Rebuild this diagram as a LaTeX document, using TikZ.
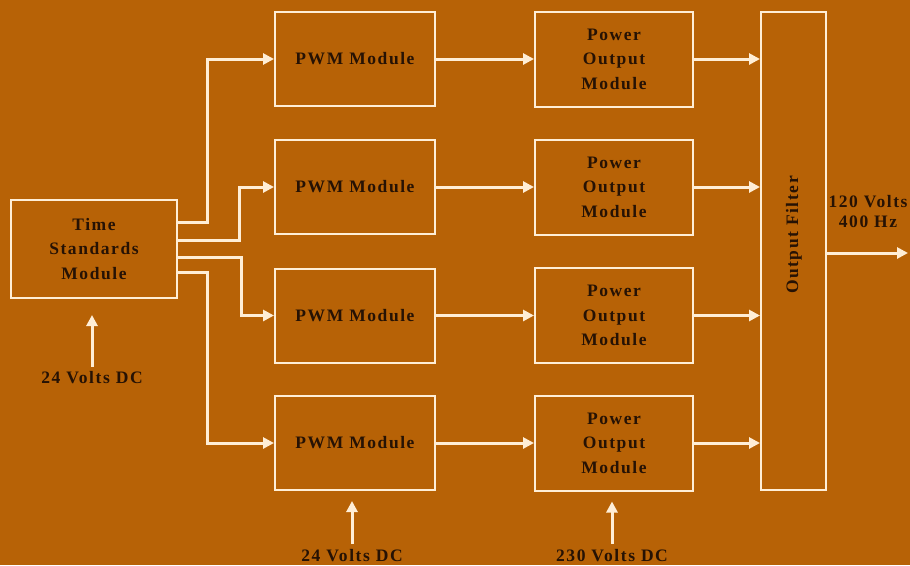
\documentclass[tikz,border=0pt]{standalone}
\usepackage{fontspec}
\setmainfont[LetterSpace=9]{Liberation Serif}
\usetikzlibrary{arrows.meta,calc}
\definecolor{bg}{RGB}{183,98,6}
\definecolor{ln}{RGB}{255,238,214}
\definecolor{tx}{RGB}{38,18,4}
\tikzset{
  box/.style={draw=ln, line width=2pt, inner sep=0pt, text=tx, align=center,
    font=\fontsize{17.5}{24.5}\selectfont\bfseries},
  conn/.style={draw=ln, line width=3pt},
  arr/.style={conn, -{Triangle[length=11pt,width=11pt]}},
  lbl/.style={text=tx, align=center, inner sep=1pt, font=\fontsize{17.5}{20}\selectfont\bfseries}
}
\begin{document}
\begin{tikzpicture}[x=1pt,y=-1pt]
\fill[bg] (0,0) rectangle (910,565);
\useasboundingbox (0,0) rectangle (910,565);

\node[box, minimum width=166pt, minimum height=98pt] (t) at (94,249) {Time\\Standards\\Module};

\foreach \i/\y in {1/59,2/187,3/315.5,4/443} {
  \node[box, minimum width=160pt, minimum height=94pt] (p\i) at (355,\y) {PWM Module};
  \node[box, minimum width=158pt, minimum height=95pt] (o\i) at (614,\y) {Power\\Output\\Module};
}
\node[box, minimum width=65pt, minimum height=478pt] (f) at (793.5,251) {};
\node[text=tx, rotate=90, font=\fontsize{17.5}{20}\selectfont\bfseries] (fl) at (794,235) {Output Filter};

\foreach \i in {1,2,3,4} {
  \draw[arr] (p\i.east) -- (p\i.east -| o\i.west);
  \draw[arr] (o\i.east) -- (o\i.east -| f.west);
}

\draw[arr] ($(t.north east)+(0,23)$) -| ($(p1.west)+(-67,0)$) -- (p1.west);
\draw[arr] ($(t.north east)+(0,41)$) -| ($(p2.west)+(-35,0)$) -- (p2.west);
\draw[arr] ($(t.north east)+(0,58)$) -| ($(p3.west)+(-33,0)$) -- (p3.west);
\draw[arr] ($(t.north east)+(0,73)$) -| ($(p4.west)+(-67,0)$) -- (p4.west);

\node[lbl] (v1) at (92,378) {24 Volts DC};
\draw[arr] ($(v1.north)+(0,-4)$) -- ($(t.south)+(-2,16)$);

\node[lbl] (v2) at (352,556) {24 Volts DC};
\draw[arr] ($(v2.north)+(0,-5)$) -- ($(p4.south)+(-3,10)$);

\node[lbl] (v3) at (612,556) {230 Volts DC};
\draw[arr] ($(v3.north)+(0,-5)$) -- ($(o4.south)+(-2,10)$);

\coordinate (out) at (908,253);
\draw[arr] (f.east |- out) -- (out);
\node[lbl] (ol) at (868,212) {120 Volts\\400 Hz};
\end{tikzpicture}
\end{document}
